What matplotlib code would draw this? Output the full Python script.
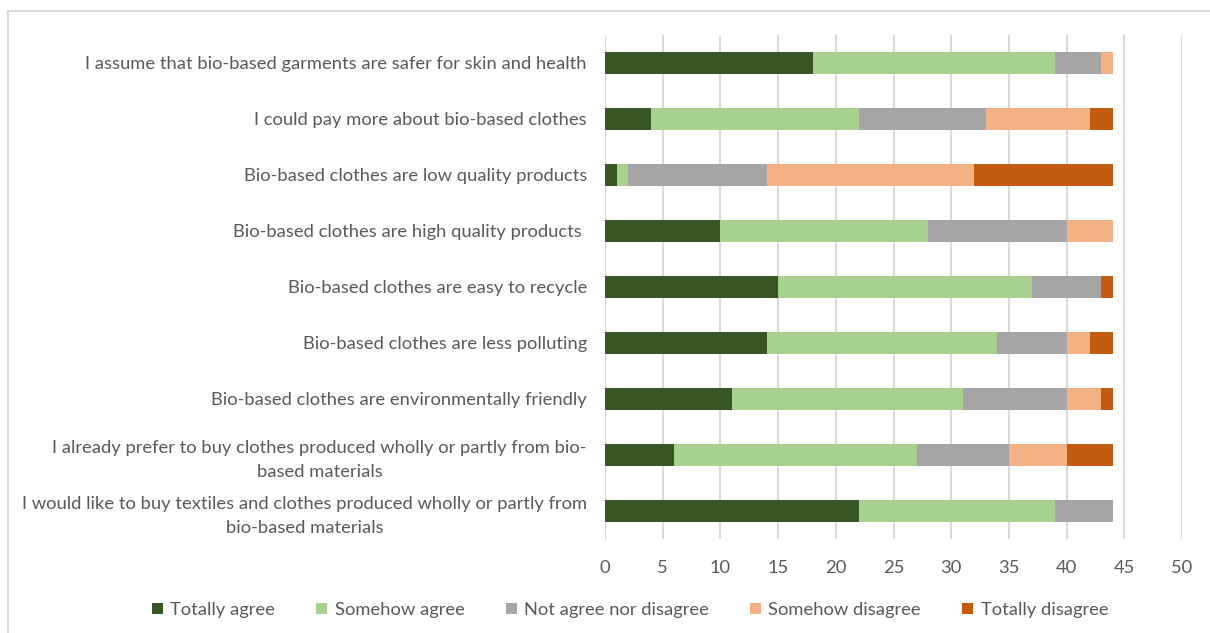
import matplotlib.pyplot as plt
import matplotlib.patches as mpatches
import numpy as np

statements = [
    "I assume that bio-based garments are safer for skin and health",
    "I could pay more about bio-based clothes",
    "Bio-based clothes are low quality products",
    "Bio-based clothes are high quality products ",
    "Bio-based clothes are easy to recycle",
    "Bio-based clothes are less polluting",
    "Bio-based clothes are environmentally friendly",
    "I already prefer to buy clothes produced wholly or partly from bio-\nbased materials",
    "I would like to buy textiles and clothes produced wholly or partly from\nbio-based materials",
]

totally_agree = [18, 4, 1, 10, 15, 14, 11, 6, 22]
somehow_agree = [21, 18, 1, 18, 22, 20, 20, 21, 17]
neutral = [4, 11, 12, 12, 6, 6, 9, 8, 5]
somehow_disagree = [1, 9, 18, 4, 0, 2, 3, 5, 0]
totally_disagree = [0, 2, 12, 0, 1, 2, 1, 4, 0]

series_names = ["Totally agree", "Somehow agree", "Not agree nor disagree",
                "Somehow disagree", "Totally disagree"]
colors = ["#375623", "#A9D18E", "#A5A5A5", "#F4B183", "#C55A11"]

plt.rcParams['font.family'] = ['Lato', 'DejaVu Sans']
fs = 13.2

fig = plt.figure(figsize=(12.1, 6.33), dpi=100)
ax = fig.add_axes([605 / 1210, 1 - 539 / 633, 577 / 1210, 504 / 633])

# outer chart frame
fig.patches.append(mpatches.Rectangle((8 / 1210, -0.1), 1.2, 1 - 11 / 633 + 0.1,
                                      transform=fig.transFigure, fill=False,
                                      edgecolor="#D9D9D9", linewidth=1.5))

y = np.arange(len(statements))
left = np.zeros(len(statements))
for vals, name, col in zip([totally_agree, somehow_agree, neutral,
                            somehow_disagree, totally_disagree],
                           series_names, colors):
    ax.barh(y, vals, left=left, height=0.39, color=col, label=name)
    left += np.array(vals)

ax.set_ylim(len(statements) - 0.5, -0.5)
ax.set_xlim(0, 50)
ax.set_xticks(range(0, 51, 5))
ax.set_yticks(y)
ax.set_yticklabels(statements, multialignment='center', linespacing=1.55)
ax.xaxis.grid(True, color="#D9D9D9", linewidth=1.5)
ax.set_axisbelow(True)
for s in ax.spines.values():
    s.set_visible(False)
ax.tick_params(axis='both', length=0, labelsize=fs, labelcolor="#595959")
ax.tick_params(axis='y', pad=13)
ax.tick_params(axis='x', pad=15)

fig.legend(loc='center', bbox_to_anchor=(630 / 1210, 1 - 610 / 633), ncol=5,
           frameon=False, fontsize=fs, handlelength=0.6, handleheight=0.6,
           handletextpad=0.4, columnspacing=2.25, labelcolor="#595959")

fig.savefig("out.png", dpi=100)
